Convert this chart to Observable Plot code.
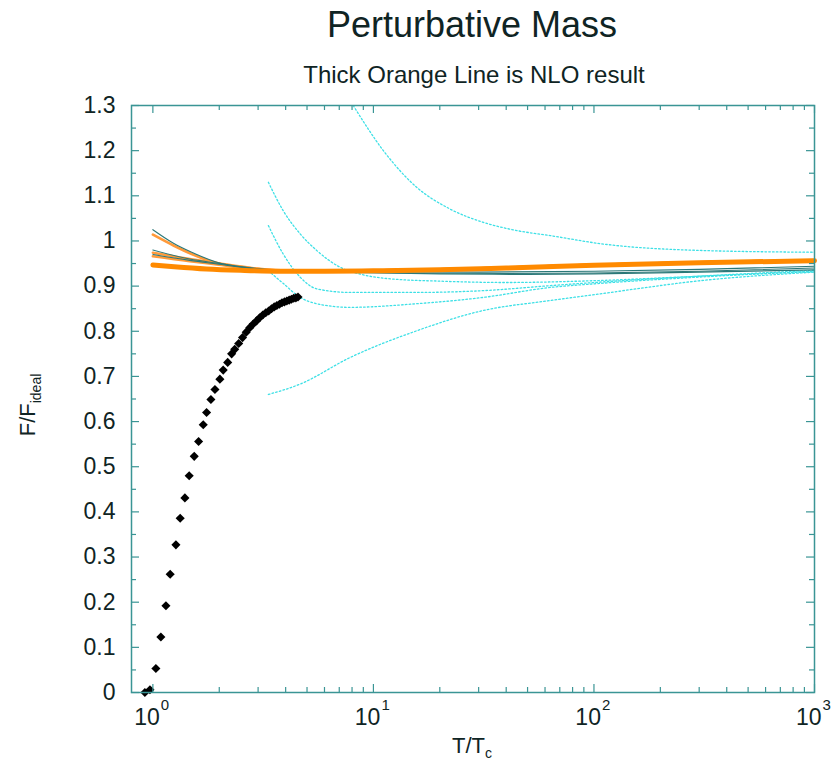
<!DOCTYPE html>
<html><head><meta charset="utf-8">
<script src="https://cdn.jsdelivr.net/npm/d3@7"></script>
<script src="https://cdn.jsdelivr.net/npm/@observablehq/plot@0.6"></script>
<style>body{margin:0;background:#fff;} #chart svg{display:block;}</style>
</head><body><div id="chart"></div>
<script>
// ---- data ----
const latticeT = [0.92,0.97,1.032,1.087,1.146,1.198,1.272,1.330,1.397,1.461,1.540,1.612,1.692,1.752,1.833,1.912,2.013,2.084,2.184,2.276,2.35,2.45,2.55,2.65,2.75,2.85,2.95,3.05,3.15,3.25,3.35,3.45,3.55,3.65,3.75,3.85,3.95,4.05,4.15,4.25,4.35,4.45,4.55];
const latticeF = [0.0,0.006,0.053,0.123,0.192,0.262,0.327,0.386,0.431,0.480,0.523,0.556,0.593,0.620,0.649,0.671,0.694,0.714,0.731,0.750,0.760,0.773,0.786,0.798,0.808,0.816,0.823,0.830,0.836,0.841,0.845,0.850,0.854,0.857,0.860,0.863,0.865,0.867,0.869,0.871,0.873,0.874,0.876];

// NLO (thick orange)
const nloT = [1.0,1.25,1.75,2.5,3.8,6,10,20,40,100,300,1000];
const nloF = [0.947,0.943,0.938,0.935,0.933,0.933,0.934,0.936,0.940,0.946,0.952,0.956];
// other orange lines
const orange1T = [1.0,1.24,1.5,1.95,2.76,3.6,6,10,20,40,100,300,1000];
const orange1F = [1.014,0.990,0.971,0.951,0.940,0.935,0.934,0.935,0.937,0.941,0.947,0.953,0.957];
const orange2T = [1.0,1.47,1.95,2.8,3.8,6,10,20,40,100,300,1000];
const orange2F = [0.974,0.960,0.951,0.940,0.935,0.934,0.935,0.937,0.941,0.947,0.953,0.957];
const orange3T = [1.0,1.47,1.95,2.8,3.8,6,10,20,40,100,300,1000];
const orange3F = [0.966,0.955,0.948,0.939,0.935,0.934,0.935,0.937,0.941,0.947,0.953,0.957];
// thin dark-teal lines
const tealAT = [1.0,1.24,1.5,1.95,2.8,4,7,15,40,100,300,1000];
const tealAF = [1.025,0.995,0.975,0.953,0.940,0.934,0.931,0.929,0.928,0.929,0.933,0.940];
const tealBT = [1.0,1.47,1.95,2.8,4,8,20,50,100,300,1000];
const tealBF = [0.980,0.960,0.951,0.940,0.933,0.930,0.927,0.926,0.927,0.931,0.936];
const tealCT = [1.0,1.47,1.95,2.8,4,10,30,100,300,1000];
const tealCF = [0.970,0.957,0.949,0.939,0.934,0.932,0.931,0.933,0.937,0.944];
// cyan dotted curves
const cyanAT = [8.1,11.1,15.7,22.2,31.6,44.8,63.2,107,303,1000];
const cyanAF = [1.30,1.200,1.119,1.071,1.041,1.023,1.012,0.994,0.979,0.975];
const cyanBT = [3.34,3.90,4.65,5.53,7.05,9,12,20,40,100,300,1000];
const cyanBF = [1.130,1.067,1.016,0.979,0.942,0.925,0.916,0.911,0.908,0.912,0.922,0.932];
const cyanCT = [3.34,3.90,4.65,5.53,7.85,15.7,31.5,63.2,100,300,1000];
const cyanCF = [1.034,0.971,0.920,0.894,0.886,0.886,0.890,0.901,0.908,0.922,0.935];
const cyanDT = [3.34,3.90,4.65,5.53,7.85,15.7,31.5,63.2,100,300,1000];
const cyanDF = [0.934,0.906,0.875,0.861,0.853,0.861,0.875,0.897,0.905,0.920,0.933];
const cyanET = [3.34,4.65,7.85,15.7,31.5,63.2,107,303,1000];
const cyanEF = [0.660,0.683,0.742,0.801,0.846,0.868,0.883,0.912,0.931];

// ticks
const yMajor = [0,0.1,0.2,0.3,0.4,0.5,0.6,0.7,0.8,0.9,1.0,1.1,1.2,1.3];
const yTickLabels = ["0","0.1","0.2","0.3","0.4","0.5","0.6","0.7","0.8","0.9","1","1.1","1.2","1.3"];
const yMinor = [0.05,0.15,0.25,0.35,0.45,0.55,0.65,0.75,0.85,0.95,1.05,1.15,1.25];
const xMajor = [1,10,100,1000];
const xTickBase = ["10","10","10","10"];
const xTickExp = ["0","1","2","3"];
const xMinor = [2,3,4,5,6,7,8,9,20,30,40,50,60,70,80,90,200,300,400,500,600,700,800,900];

// ---- tables ----
const toRows = (T, F, key) => T.map((t, i) => ({T: t, F: F[i], key}));
const orangeThin = [...toRows(orange1T, orange1F, "o1"), ...toRows(orange2T, orange2F, "o2"), ...toRows(orange3T, orange3F, "o3")];
const nlo = toRows(nloT, nloF, "nlo");
const teal = [...toRows(tealAT, tealAF, "a"), ...toRows(tealBT, tealBF, "b"), ...toRows(tealCT, tealCF, "c")];
const cyan = [...toRows(cyanAT, cyanAF, "A"), ...toRows(cyanBT, cyanBF, "B"), ...toRows(cyanCT, cyanCF, "C"), ...toRows(cyanDT, cyanDF, "D"), ...toRows(cyanET, cyanEF, "E")];
const lattice = toRows(latticeT, latticeF, "lat");

const W = 833, H = 765, ML = 131, MR = 19, MT = 105, MB = 73;
const FW = W - ML - MR, FH = H - MT - MB;
const frameCol = "#3a9595", textCol = "#0f2424";
const font = "Liberation Sans, Arial, Helvetica, sans-serif";

const plot = Plot.plot({
  width: W, height: H,
  marginLeft: ML, marginRight: MR, marginTop: MT, marginBottom: MB,
  style: {fontFamily: font, background: "#fff", overflow: "visible"},
  x: {type: "log", domain: [0.8, 1000], axis: null},
  y: {domain: [0, 1.3], axis: null},
  marks: [
    Plot.line(cyan, {x: "T", y: "F", z: "key", stroke: "#3ee0e6", strokeWidth: 1.3, strokeDasharray: "1.6,2.2", curve: "monotone-x", clip: true}),
    Plot.line(orangeThin, {x: "T", y: "F", z: "key", stroke: "#ff9a3a", strokeWidth: 2.6, curve: "monotone-x"}),
    Plot.line(teal, {x: "T", y: "F", z: "key", stroke: "#2b7878", strokeWidth: 1.1, curve: "monotone-x"}),
    Plot.line(nlo, {x: "T", y: "F", stroke: "#ff8a00", strokeWidth: 5, curve: "monotone-x"}),
    Plot.dot(lattice, {x: "T", y: "F", symbol: "diamond2", r: 4.1, fill: "#000", stroke: "none"}),
    // inward ticks
    Plot.ruleY(yMajor, {y: d => d, insetRight: FW - 8, stroke: frameCol, strokeWidth: 1.2}),
    Plot.ruleY(yMajor, {y: d => d, insetLeft: FW - 8, stroke: frameCol, strokeWidth: 1.2}),
    Plot.ruleY(yMinor, {y: d => d, insetRight: FW - 5, stroke: frameCol, strokeWidth: 1.2}),
    Plot.ruleY(yMinor, {y: d => d, insetLeft: FW - 5, stroke: frameCol, strokeWidth: 1.2}),
    Plot.ruleX(xMajor, {x: d => d, insetTop: FH - 8, stroke: frameCol, strokeWidth: 1.2}),
    Plot.ruleX(xMajor, {x: d => d, insetBottom: FH - 8, stroke: frameCol, strokeWidth: 1.2}),
    Plot.ruleX(xMinor, {x: d => d, insetTop: FH - 5, stroke: frameCol, strokeWidth: 1.2}),
    Plot.ruleX(xMinor, {x: d => d, insetBottom: FH - 5, stroke: frameCol, strokeWidth: 1.2}),
    Plot.frame({stroke: frameCol, strokeWidth: 1.5}),
    // tick labels
    Plot.text(yMajor, {y: d => d, text: (d, i) => yTickLabels[i], frameAnchor: "left", textAnchor: "end", dx: -16, fontSize: 23, fill: textCol, lineAnchor: "middle"}),
    Plot.text(xMajor, {x: d => d, text: (d, i) => xTickBase[i], frameAnchor: "bottom", textAnchor: "end", dx: 7, dy: 25, fontSize: 23, fill: textCol, lineAnchor: "middle"}),
    Plot.text(xMajor, {x: d => d, text: (d, i) => xTickExp[i], frameAnchor: "bottom", textAnchor: "start", dx: 8, dy: 13, fontSize: 15, fill: textCol, lineAnchor: "middle"})
  ]
});

const svg = d3.select(plot);
svg.append("text").attr("x", 472).attr("y", 37).attr("text-anchor", "middle")
  .attr("font-family", font).attr("font-size", 36).attr("fill", textCol).text("Perturbative Mass");
svg.append("text").attr("x", 474).attr("y", 83).attr("text-anchor", "middle")
  .attr("font-family", font).attr("font-size", 24).attr("fill", textCol).text("Thick Orange Line is NLO result");
const xl = svg.append("text").attr("x", 472).attr("y", 753).attr("text-anchor", "middle")
  .attr("font-family", font).attr("font-size", 22).attr("fill", textCol);
xl.append("tspan").text("T/T");
xl.append("tspan").attr("font-size", 14).attr("dy", 5).text("c");
const yl = svg.append("text").attr("transform", "translate(35,405) rotate(-90)").attr("text-anchor", "middle")
  .attr("font-family", font).attr("font-size", 22).attr("fill", textCol);
yl.append("tspan").text("F/F");
yl.append("tspan").attr("font-size", 14).attr("dy", 6).text("ideal");

document.getElementById("chart").appendChild(plot);
</script>
</body></html>
